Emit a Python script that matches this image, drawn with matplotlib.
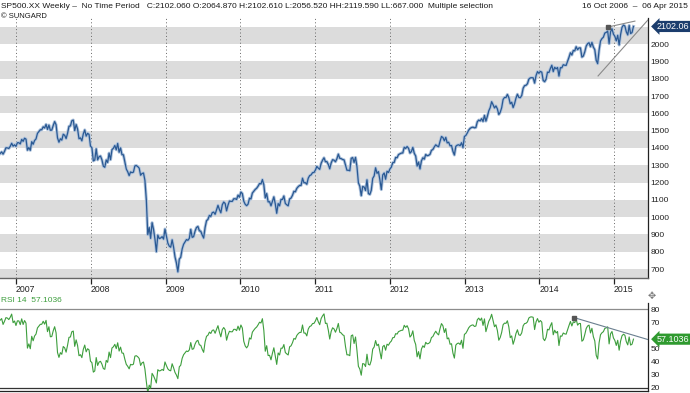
import numpy as np
import pandas as pd
import matplotlib
matplotlib.use("Agg")
import matplotlib.pyplot as plt
import matplotlib.dates as mdates
from matplotlib.transforms import blended_transform_factory

# ---------------- data (weekly closes, read/estimated from chart) ----------------
warmup_2006 = [1265, 1236, 1240, 1278, 1280, 1266, 1302, 1295, 1311, 1299, 1321, 1315, 1336, 1349, 1366]
closes_2006 = [1368, 1377, 1364, 1380, 1401, 1400, 1397, 1409, 1427, 1410, 1418]
closes_2007 = [1409, 1430, 1430, 1423, 1449, 1438, 1456, 1451, 1387, 1402, 1386, 1436, 1421,
               1443, 1452, 1484, 1494, 1505, 1505, 1522, 1515, 1536, 1507, 1532, 1502, 1503,
               1530, 1552, 1534, 1458, 1433, 1453, 1445, 1479, 1473, 1454, 1484, 1525, 1527,
               1557, 1561, 1500, 1535, 1509, 1453, 1458, 1441, 1481, 1504, 1468, 1484, 1478]
closes_2008 = [1411, 1401, 1325, 1330, 1395, 1331, 1349, 1353, 1331, 1294, 1288, 1330, 1316,
               1370, 1332, 1390, 1398, 1414, 1389, 1426, 1375, 1400, 1361, 1360, 1318, 1278,
               1262, 1240, 1261, 1257, 1260, 1296, 1298, 1292, 1283, 1242, 1252, 1255, 1213,
               1099, 899, 940, 877, 968, 930, 873, 800, 896, 876, 879, 887, 873]
closes_2009 = [931, 890, 850, 832, 826, 869, 827, 770, 735, 683, 757, 768, 816,
               843, 857, 870, 866, 877, 929, 883, 887, 919, 940, 946, 921, 918,
               896, 879, 940, 979, 987, 1010, 1004, 1026, 1029, 1016, 1042, 1068, 1044,
               1025, 1071, 1087, 1079, 1036, 1069, 1093, 1091, 1091, 1106, 1106, 1102, 1127, 1115]
closes_2010 = [1145, 1136, 1092, 1074, 1066, 1075, 1109, 1105, 1139, 1150, 1160, 1167,
               1179, 1194, 1192, 1217, 1187, 1111, 1136, 1088, 1089, 1065, 1092, 1117, 1076,
               1022, 1078, 1065, 1102, 1102, 1122, 1079, 1071, 1065, 1105, 1110, 1126, 1149,
               1146, 1166, 1176, 1183, 1183, 1225, 1199, 1199, 1190, 1225, 1240, 1244, 1257, 1258]
closes_2011 = [1272, 1293, 1283, 1276, 1311, 1329, 1343, 1320, 1321, 1304, 1279, 1313,
               1332, 1329, 1320, 1337, 1364, 1340, 1338, 1333, 1331, 1300, 1271, 1271, 1268,
               1340, 1344, 1316, 1345, 1292, 1199, 1178, 1124, 1177, 1174, 1154, 1216, 1136, 1131,
               1155, 1224, 1238, 1285, 1253, 1263, 1216, 1159, 1244, 1255, 1219, 1265, 1258]
closes_2012 = [1278, 1289, 1315, 1316, 1345, 1343, 1361, 1366, 1370, 1371, 1404, 1397, 1408,
               1398, 1370, 1379, 1403, 1369, 1353, 1295, 1318, 1278, 1325, 1343, 1335, 1362,
               1355, 1357, 1363, 1386, 1391, 1406, 1418, 1411, 1407, 1438, 1466, 1460, 1441,
               1461, 1429, 1433, 1412, 1414, 1380, 1359, 1409, 1416, 1418, 1413, 1430, 1402]
closes_2013 = [1466, 1472, 1486, 1503, 1513, 1518, 1520, 1516, 1518, 1551, 1561, 1556, 1569,
               1553, 1588, 1555, 1582, 1614, 1633, 1667, 1650, 1631, 1643, 1626, 1593, 1606,
               1632, 1680, 1692, 1691, 1709, 1691, 1655, 1664, 1633, 1655, 1688, 1710, 1692,
               1690, 1703, 1745, 1760, 1762, 1771, 1798, 1805, 1806, 1805, 1775, 1818, 1841]
closes_2014 = [1831, 1842, 1838, 1790, 1783, 1797, 1838, 1836, 1859, 1878, 1841, 1866, 1857,
               1865, 1815, 1864, 1863, 1881, 1878, 1877, 1900, 1924, 1950, 1937, 1963, 1961,
               1985, 1968, 1978, 1978, 1925, 1931, 1955, 1988, 2003, 2008, 1985, 2010, 1983,
               1968, 1906, 1887, 1965, 2018, 2032, 2040, 2064, 2068, 2075, 2003, 2071, 2089]
closes_2015 = [2058, 2045, 2019, 2051, 1995, 2055, 2097, 2110, 2105, 2071, 2053, 2108, 2061, 2067, 2102.06]

year_ticks = [2007, 2008, 2009, 2010, 2011, 2012, 2013, 2014, 2015]
price_ticks = [700, 800, 900, 1000, 1100, 1200, 1300, 1400, 1500, 1600, 1700, 1800, 1900, 2000]
rsi_ticks = [20, 30, 40, 50, 70, 80]
rsi_period = 14
last_close_label = "2102.06"
rsi_last_value = 57.1036

# trend lines drawn on the chart (date, value)
price_upper_trend = [("2014-12-03", 2099), ("2015-04-13", 2133)]
price_lower_trend = [("2014-10-15", 1816), ("2015-06-16", 2140)]
rsi_trend = [("2014-06-20", 73.5), ("2015-06-16", 56.8)]

header_left = ("SP500.XX Weekly \u2013  No Time Period   C:2102.060 O:2064.870 H:2102.610 "
               "L:2056.520 HH:2119.590 LL:667.000  Multiple selection")
header_right = "16 Oct 2006  \u2013  06 Apr 2015"

# ---------------- derived series ----------------
all_closes = np.array(warmup_2006 + closes_2006 + closes_2007 + closes_2008 + closes_2009 +
                      closes_2010 + closes_2011 + closes_2012 + closes_2013 + closes_2014 +
                      closes_2015, dtype=float)
all_dates = pd.date_range("2006-07-03", periods=len(all_closes), freq="W-MON")

# Wilder RSI(14) from closes
d = np.diff(all_closes)
gain = np.where(d > 0, d, 0.0)
loss = np.where(d < 0, -d, 0.0)
rsi = np.full(len(all_closes), np.nan)
ag = gain[:rsi_period].mean()
al = loss[:rsi_period].mean()
rsi[rsi_period] = 100 - 100 / (1 + ag / al)
for i in range(rsi_period, len(d)):
    ag = (ag * (rsi_period - 1) + gain[i]) / rsi_period
    al = (al * (rsi_period - 1) + loss[i]) / rsi_period
    rsi[i + 1] = 100 - 100 / (1 + ag / al)

nw = len(warmup_2006)
dates = all_dates[nw:]
closes = all_closes[nw:]
rsi_vals = rsi[nw:]

# ---------------- figure ----------------
plt.rcParams['font.family'] = ['Liberation Sans', 'DejaVu Sans']
W, H = 690, 393
fig = plt.figure(figsize=(W / 100, H / 100), dpi=100)
fig.patch.set_facecolor("white")

xl = (mdates.date2num(pd.Timestamp("2006-10-15")), mdates.date2num(pd.Timestamp("2015-06-16")))

ax = fig.add_axes([0, (H - 278) / H, 648 / W, (278 - 18) / H])
ax.set_xlim(xl)
ax.set_ylim(648, 2151)
# alternating bands
for lo in range(600, 2200, 200):
    ax.axhspan(lo, lo + 100, color="#dcdcdc", lw=0, zorder=0)
# year grid
for y in year_ticks:
    ax.axvline(mdates.date2num(pd.Timestamp(f"{y}-01-01")), color="#666666", lw=0.7,
               ls=(0, (1, 2.5)), zorder=1)
ax.plot(dates, closes, color="#afc3dc", lw=2.2, zorder=2)
ax.plot(dates, closes, color="#2a5993", lw=0.9, zorder=3)

for tr_ in (price_upper_trend, price_lower_trend):
    ax.plot([pd.Timestamp(t[0]) for t in tr_], [t[1] for t in tr_], color="#8a8a8a", lw=0.8, zorder=4)
ax.plot([pd.Timestamp(price_upper_trend[0][0])], [price_upper_trend[0][1]], marker="s", ms=2.5,
        color="#555555", zorder=5)

for s in ["top", "left"]:
    ax.spines[s].set_visible(False)
ax.spines["right"].set_color("#222222")
ax.spines["right"].set_linewidth(0.9)
ax.spines["bottom"].set_color("#666666")
ax.spines["bottom"].set_linewidth(1.0)

ax.yaxis.tick_right()
ax.set_yticks(price_ticks)
ax.set_yticklabels([str(v) for v in price_ticks])
ax.tick_params(axis="y", length=0, pad=2, labelsize=6, colors="#222222")
ax.set_xticks([mdates.date2num(pd.Timestamp(f"{y}-01-01")) for y in year_ticks])
ax.set_xticklabels([str(y) for y in year_ticks], ha="left")
ax.tick_params(axis="x", length=4, width=0.9, color="#222222", pad=0.8, labelsize=6.3,
               labelcolor="#222222")

trp = blended_transform_factory(ax.transAxes, ax.transData)
ax.text(1 + 9 / 648, closes[-1], last_close_label, transform=trp, ha="left", va="center",
        fontsize=6.5, color="white", clip_on=False, zorder=10,
        bbox=dict(boxstyle="larrow,pad=0.12", fc="#1b3d6d", ec="none"))

# ---------------- RSI panel ----------------
ax2 = fig.add_axes([0, (H - 391) / H, 648 / W, (391 - 303) / H])
ax2.set_xlim(xl)
ax2.set_ylim(17.7, 84.6)
ax2.axhline(80, color="#8c8c8c", lw=0.9)
ax2.axhline(20, color="#333333", lw=0.9)
ax2.plot(dates, rsi_vals, color="#3d9e3d", lw=0.8, zorder=3)
ax2.plot([pd.Timestamp(t[0]) for t in rsi_trend], [t[1] for t in rsi_trend], color="#6a7f8f",
         lw=0.8, zorder=4)
ax2.plot([pd.Timestamp(rsi_trend[0][0])], [rsi_trend[0][1]], marker="s", ms=2.5,
         color="#555555", zorder=5)
for s in ["top", "left"]:
    ax2.spines[s].set_visible(False)
ax2.spines["right"].set_color("#222222")
ax2.spines["right"].set_linewidth(0.9)
ax2.spines["bottom"].set_color("#222222")
ax2.spines["bottom"].set_linewidth(0.9)
ax2.set_xticks([])
ax2.yaxis.tick_right()
ax2.set_yticks(rsi_ticks)
ax2.set_yticklabels([str(v) for v in rsi_ticks])
ax2.tick_params(axis="y", length=0, pad=2, labelsize=6, colors="#222222")
trr = blended_transform_factory(ax2.transAxes, ax2.transData)
ax2.text(1 + 9 / 648, rsi_last_value, f"{rsi_last_value:.4f}", transform=trr, ha="left",
         va="center", fontsize=6.5, color="white", clip_on=False, zorder=10,
         bbox=dict(boxstyle="larrow,pad=0.12", fc="#2f9a2f", ec="none"))

# ---------------- header texts ----------------
fig.text(1 / W, 1 - 6 / H, header_left, fontsize=6, color="#1a1a1a", va="center", ha="left")
fig.text(688 / W, 1 - 6 / H, header_right, fontsize=6, color="#1a1a1a", va="center", ha="right")
fig.text(1 / W, 1 - 16 / H, "\u00a9 SUNGARD", fontsize=5.5, color="#1a1a1a", va="center", ha="left")
fig.text(1 / W, 1 - 301 / H, f"RSI 14  {rsi_last_value:.4f}", fontsize=6, color="#3d9e3d",
         va="center", ha="left")
fig.text(652 / W, 1 - 296 / H, "\u2725", fontsize=7, color="#777777", va="center", ha="center",
         family="DejaVu Sans")

fig.savefig("out.png", dpi=100, facecolor="white")
